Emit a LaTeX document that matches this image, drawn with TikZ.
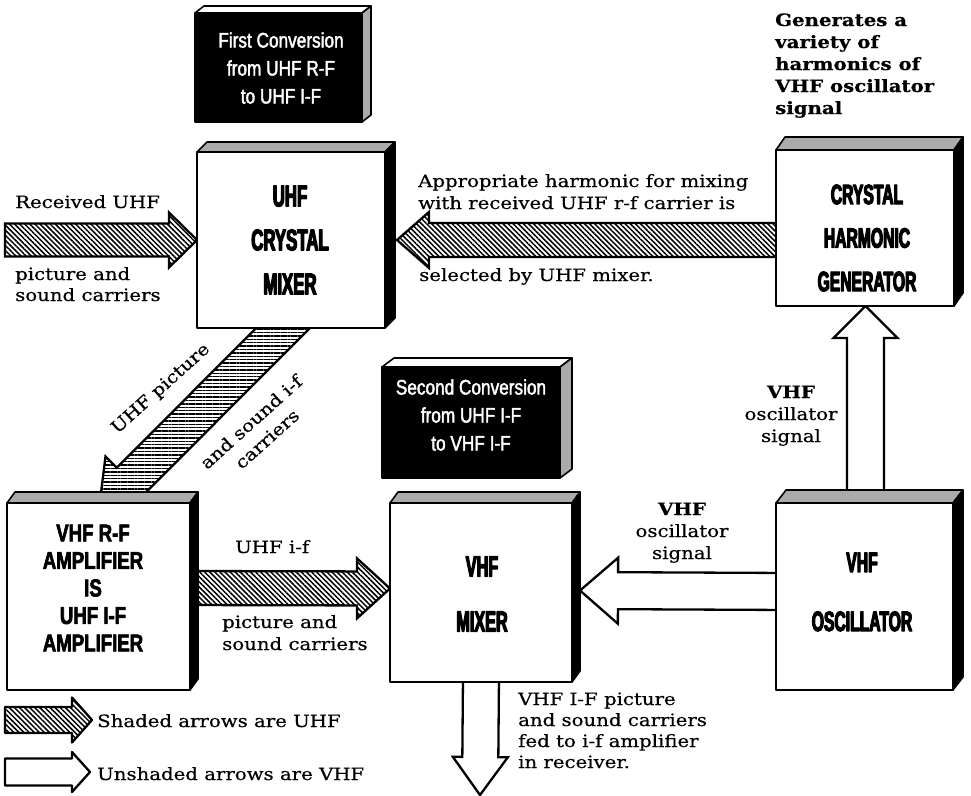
\documentclass[tikz,border=0pt]{standalone}
\usepackage{fontspec}
\setmainfont[FakeStretch=1.16,FakeBold=0.5]{DejaVu Serif}
\newfontfamily\boxfont[FakeStretch=0.56,FakeBold=4]{Liberation Sans Bold}
\newfontfamily\ampfont[FakeStretch=0.76,FakeBold=2.5]{Liberation Sans Bold}
\newfontfamily\labfont[FakeStretch=0.82,FakeBold=2]{Liberation Sans}
\usetikzlibrary{calc,patterns.meta}
\pgfdeclarelayer{bg}
\pgfsetlayers{bg,main}
% fat arrow: #1 style, #2 name, #3 start, #4 tip, #5 half shaft, #6 half head, #7 head length
\newcommand\fatarrow[7]{%
  \coordinate (#2-s) at (#3);
  \coordinate (#2-e) at (#4);
  \coordinate (#2-b) at ($(#2-e)!#7!(#2-s)$);
  \draw[#1] ($(#2-s)!#5!90:(#2-e)$) -- ($(#2-b)!#5!-90:(#2-s)$) -- ($(#2-b)!#6!-90:(#2-s)$)
    -- (#2-e) -- ($(#2-b)!#6!90:(#2-s)$) -- ($(#2-b)!#5!90:(#2-s)$) -- ($(#2-s)!#5!-90:(#2-e)$) -- cycle;
}
% faces of a 3-D box: #1 node, #2 dx, #3 dy, #4 top style, #5 side style
\newcommand\boxfaces[5]{%
  \filldraw[#4] (#1.north west) -- ++(#2,#3) -- ($(#1.north east)+(#2,#3)$) -- (#1.north east) -- cycle;
  \filldraw[#5] (#1.north east) -- ++(#2,#3) -- ($(#1.south east)+(#2,#3)$) -- (#1.south east) -- cycle;
}
\begin{document}
\begin{tikzpicture}[x=1pt,y=-1pt,line join=round,
  box/.style={draw,line width=2.6pt,fill=white,inner sep=0pt,outer sep=0pt},
  labbox/.style={draw,line width=1.6pt,fill=black,inner sep=0pt,outer sep=0pt},
  topface/.style={draw,line width=1.6pt,fill=black!33},
  labtop/.style={draw,line width=1.6pt,fill=white},
  sideblack/.style={draw,line width=1.6pt,fill=black},
  sidegray/.style={draw,line width=1.6pt,fill=black!33},
  btext/.style={font=\boxfont\fontsize{30}{44}\selectfont,align=center,inner sep=0pt},
  atext/.style={font=\ampfont\fontsize{24.5}{27.5}\selectfont,align=center,inner sep=0pt},
  ltext/.style={text=white,font=\labfont\fontsize{21}{28}\selectfont,align=center,inner sep=0pt},
  txt/.style={font=\fontsize{17}{22}\selectfont,inner sep=0pt,anchor=base west},
  ctxt/.style={font=\fontsize{17}{22}\selectfont,inner sep=0pt,anchor=base},
  btxt/.style={font=\bfseries\fontsize{17}{22}\selectfont},
  rtxt/.style={font=\fontsize{17}{22}\selectfont,inner sep=0pt,rotate=42},
  hatch/.style={draw,line width=2.3pt,pattern={Lines[angle=-45,distance=3.6pt,line width=1.5pt]}},
  hatchh/.style={draw,line width=2.3pt,pattern={Lines[angle=0,distance=3.4pt,line width=1.4pt]}},
  hollow/.style={draw,line width=2.3pt,fill=white}]
\useasboundingbox (0,0) rectangle (971,795);

% ---------------- boxes ----------------
\node[box,minimum width=188pt,minimum height=176pt] (mix) at (291,240) {};
\boxfaces{mix}{10}{-10}{topface}{sideblack}
\node[btext] (mixT) at (290,240) {UHF\\CRYSTAL\\MIXER};

\node[box,minimum width=178pt,minimum height=156pt] (chg) at (865,228) {};
\boxfaces{chg}{9}{-13}{topface}{sideblack}
\node[btext,font=\boxfont\fontsize{28}{43.5}\selectfont] (chgT) at (867,238) {CRYSTAL\\HARMONIC\\GENERATOR};

\node[box,minimum width=183pt,minimum height=187pt] (amp) at (98.5,596.5) {};
\boxfaces{amp}{8}{-11}{topface}{sideblack}
\node[atext] (ampT) at (93,588) {VHF R-F\\AMPLIFIER\\IS\\UHF I-F\\AMPLIFIER};

\node[box,minimum width=182pt,minimum height=179pt] (vmix) at (481,592.5) {};
\boxfaces{vmix}{8}{-11}{topface}{sideblack}
\node[btext,font=\boxfont\fontsize{29}{55}\selectfont] (vmixT) at (482,594) {VHF\\MIXER};

\node[box,minimum width=177pt,minimum height=187pt] (osc) at (864.5,596.5) {};
\boxfaces{osc}{10}{-13}{topface}{sideblack}
\node[btext,font=\boxfont\fontsize{28}{59}\selectfont] (oscT) at (862,592) {VHF\\OSCILLATOR};

\node[labbox,minimum width=167pt,minimum height=109pt] (lab1) at (278.5,67.5) {};
\boxfaces{lab1}{9}{-7}{labtop}{sidegray}
\node[ltext] (lab1T) at (281,68) {First Conversion\\from UHF R-F\\to UHF I-F};

\node[labbox,minimum width=178pt,minimum height=111pt] (lab2) at (471,422.5) {};
\boxfaces{lab2}{12}{-9}{labtop}{sidegray}
\node[ltext] (lab2T) at (471,415) {Second Conversion\\from UHF I-F\\to VHF I-F};

% ---------------- arrows (behind the boxes) ----------------
\begin{pgfonlayer}{bg}
\fill[white] (0,0) rectangle (971,795);
\fatarrow{hatch}{recv}{5,240}{mix.west}{16.5pt}{27.5pt}{28pt}
\fatarrow{hatch}{harm}{$(chg.west)+(12,12)$}{$(mix.east)+(12,0)$}{17pt}{28pt}{32pt}
\fatarrow{hatchh}{diag}{$(mix.south)+(10,-18)$}{$(amp.north)+(0,10)$}{19pt}{35pt}{45pt}
\fatarrow{hatch}{uif}{$(amp.east)+(-5,-8.5)$}{$(vmix.west)+(0,-4)$}{17pt}{30pt}{33pt}
\fatarrow{hollow}{oscsig}{$(osc.west)+(14,-5)$}{$(vmix.east)+(8,-2)$}{18.5pt}{33pt}{38pt}
\fatarrow{hollow}{up}{$(osc.north)+(1,6)$}{$(chg.south)+(0.5,0)$}{18.5pt}{32pt}{32pt}
\fatarrow{hollow}{down}{$(vmix.south)+(0,-6)$}{$(vmix.south)+(-1,113)$}{18pt}{27.5pt}{38pt}
\end{pgfonlayer}

% ---------------- legend ----------------
\fatarrow{hatch}{legh}{5,720}{92,720}{13pt}{22.5pt}{20pt}
\fatarrow{hollow}{legw}{5,772}{90,772}{13.5pt}{20pt}{18pt}
\node[txt] (leg1) at (97,727) {Shaded arrows are UHF};
\node[txt] (leg2) at (97,780) {Unshaded arrows are VHF};

% ---------------- texts ----------------
\node[txt] (recv1) at (15,208) {Received UHF};
\node[txt] (recv2) at (15,280) {picture and};
\node[txt] (recv3) at (15,301) {sound carriers};

\node[txt] (app1) at (418,187) {Appropriate harmonic for mixing};
\node[txt] (app2) at (418,209) {with received UHF r-f carrier is};
\node[txt] (app3) at (419,281) {selected by UHF mixer.};

\node[txt,btxt] (gen1) at (775,26) {Generates a};
\node[txt,btxt] (gen2) at (775,48) {variety of};
\node[txt,btxt] (gen3) at (775,70) {harmonics of};
\node[txt,btxt] (gen4) at (775,92) {VHF oscillator};
\node[txt,btxt] (gen5) at (775,114) {signal};

\node[ctxt,btxt] (os1) at (791,398) {VHF};
\node[ctxt] (os2) at (791,420) {oscillator};
\node[ctxt] (os3) at (791,442) {signal};

\node[ctxt,btxt] (om1) at (682,515) {VHF};
\node[ctxt] (om2) at (682,537) {oscillator};
\node[ctxt] (om3) at (682,559) {signal};

\node[txt] (uif1) at (235,553) {UHF i-f};
\node[txt] (uif2) at (222,628) {picture and};
\node[txt] (uif3) at (222,650) {sound carriers};

\node[txt] (out1) at (518,705) {VHF I-F picture};
\node[txt] (out2) at (518,726) {and sound carriers};
\node[txt] (out3) at (518,747) {fed to i-f amplifier};
\node[txt] (out4) at (518,768) {in receiver.};

\node[rtxt] (diag1) at (161,389) {UHF picture};
\node[rtxt] (diag2) at (251,422) {and sound i-f};
\node[rtxt] (diag3) at (267,439) {carriers};
\end{tikzpicture}
\end{document}
